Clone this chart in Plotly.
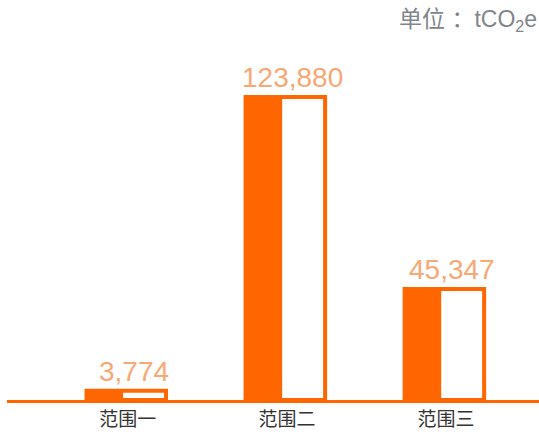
import plotly.graph_objects as go

categories = ["范围一", "范围二", "范围三"]
values = [3774, 123880, 45347]
unit_label = "单位 ：tCO<sub>2</sub>e"

orange = "#FF6600"
label_color = "#F7A874"

fig = go.Figure()
# outlined full bar
fig.add_trace(go.Bar(
    x=categories, y=values, width=0.5, offset=-0.26,
    marker=dict(color="white", line=dict(color=orange, width=4)),
    hoverinfo="skip", showlegend=False,
))
# filled left part
fig.add_trace(go.Bar(
    x=categories, y=values, width=0.23, offset=-0.26,
    marker=dict(color=orange, line=dict(width=0)),
    showlegend=False,
))

for c, v in zip(categories, values):
    fig.add_annotation(
        x=c, y=v, xref="x", yref="y", text=f"{v:,}",
        showarrow=False, yanchor="bottom", xshift=6, yshift=2,
        font=dict(size=28, color=label_color, family="Liberation Sans, Arial"),
    )

fig.add_annotation(
    x=1, y=1.055, xref="paper", yref="paper", text=unit_label,
    showarrow=False, xanchor="right", yanchor="middle",
    font=dict(size=23, color="#7F858A", family="Liberation Sans, Noto Sans CJK SC"),
)

fig.update_layout(
    width=539, height=435,
    margin=dict(l=7, r=0, t=40, b=35),
    paper_bgcolor="white", plot_bgcolor="white",
    barmode="overlay",
    xaxis=dict(
        range=[-0.76, 2.585], showgrid=False, zeroline=False,
        showline=True, linecolor=orange, linewidth=3,
        ticks="", tickfont=dict(size=19, color="#333333", family="Noto Sans CJK SC"),
    ),
    yaxis=dict(range=[0, 147200], visible=False, showgrid=False, zeroline=False),
    font=dict(family="Noto Sans CJK SC"),
)

fig.write_html("out.html")
